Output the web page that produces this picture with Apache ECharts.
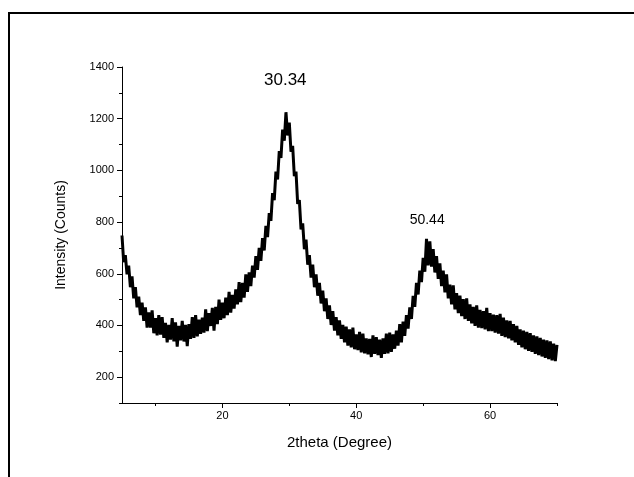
<!DOCTYPE html>
<html>
<head>
<meta charset="utf-8">
<script src="https://cdn.jsdelivr.net/npm/echarts@6/dist/echarts.min.js"></script>
<style>
  html, body { margin: 0; padding: 0; background: #fff; }
  #chart { width: 634px; height: 477px; }
</style>
</head>
<body>
<div id="chart"></div>
<script>
// scan grid: 2theta from 5 to 70 deg, one reading every 0.25 deg
const twoThetaStart = 5
const twoThetaStep = 0.25

// intensity readings (counts), one row per degree
const intensity = [
  748, 645, 672, 598,   // 5
  632, 548, 590, 505,   // 6
  548, 470, 512, 440,   // 7
  488, 418, 470, 392,   // 8
  450, 392, 458, 370,   // 9
  428, 362, 440, 365,   // 10
  432, 352, 410, 335,   // 11
  402, 345, 428, 338,   // 12
  412, 318, 398, 342,   // 13
  418, 338, 402, 320,   // 14
  405, 348, 432, 352,   // 15
  440, 358, 422, 368,   // 16
  430, 372, 462, 378,   // 17
  448, 398, 468, 380,   // 18
  472, 405, 500, 422,   // 19
  488, 428, 508, 440,   // 20
  530, 450, 518, 465,   // 21
  540, 482, 568, 490,   // 22
  565, 508, 598, 530,   // 23
  605, 552, 632, 585,   // 24
  668, 615, 700, 650,   // 25
  738, 690, 785, 742,   // 26
  835, 805, 912, 885,   // 27
  995, 965, 1075, 1048, // 28
  1158, 1115, 1225, 1135, // 29
  1185, 1072, 1095, 978, // 30
  995, 870, 885, 772,   // 31
  795, 695, 732, 635,   // 32
  672, 585, 635, 548,   // 33
  598, 515, 565, 485,   // 34
  535, 455, 505, 425,   // 35
  478, 402, 455, 380,   // 36
  432, 362, 420, 348,   // 37
  402, 335, 395, 322,   // 38
  385, 315, 392, 308,   // 39
  365, 305, 375, 296,   // 40
  368, 292, 350, 288,   // 41
  348, 278, 362, 290,   // 42
  355, 285, 345, 275,   // 43
  350, 290, 368, 292,   // 44
  372, 298, 365, 310,   // 45
  380, 322, 405, 335,   // 46
  415, 360, 440, 388,   // 47
  470, 425, 515, 472,   // 48
  565, 520, 612, 568,   // 49
  662, 608, 735, 632,   // 50
  725, 628, 695, 605,   // 51
  668, 580, 640, 552,   // 52
  612, 528, 598, 505,   // 53
  558, 482, 555, 462,   // 54
  525, 448, 515, 436,   // 55
  502, 425, 505, 418,   // 56
  482, 408, 472, 398,   // 57
  478, 392, 460, 390,   // 58
  455, 385, 468, 378,   // 59
  448, 378, 442, 372,   // 60
  440, 368, 445, 360,   // 61
  430, 355, 420, 350,   // 62
  418, 342, 405, 335,   // 63
  398, 325, 385, 315,   // 64
  380, 308, 375, 302,   // 65
  370, 298, 362, 290,   // 66
  358, 285, 352, 280,   // 67
  345, 275, 342, 270,   // 68
  338, 265, 330, 262,   // 69
  325                   // 70
]

const xMajorTicks = [20, 40, 60]
const xMinorTicks = [10, 30, 50, 70]
const yMajorTicks = [200, 400, 600, 800, 1000, 1200, 1400]
const yMinorTicks = [100, 300, 500, 700, 900, 1100, 1300]

const peakNames = ['30.34', '50.44']
const peakNameAt = [[29.4, 1347], [50.6, 807]]

const FONT = 'Liberation Sans, Arial, sans-serif'

const chart = echarts.init(document.getElementById('chart'), null, { renderer: 'canvas' })

const points = intensity.map((v, i) => [twoThetaStart + i * twoThetaStep, v])

const axisLineStyle = { color: '#000', width: 1 }
const plain = v => String(v)

const option = {
  animation: false,
  backgroundColor: '#fff',
  grid: { left: 122, right: 77, top: 67, bottom: 74 },
  graphic: [{
    type: 'rect',
    shape: { x: 9, y: 13, width: 700, height: 520 },
    style: { fill: 'none', stroke: '#000', lineWidth: 2 },
    silent: true
  }],
  xAxis: [
    {
      type: 'value',
      min: 5,
      max: 70,
      position: 'bottom',
      axisLine: { show: true, lineStyle: axisLineStyle },
      axisTick: { show: true, customValues: xMajorTicks, length: 5, lineStyle: axisLineStyle },
      axisLabel: { customValues: xMajorTicks, formatter: plain, color: '#000', fontSize: 11, fontFamily: FONT, margin: 7 },
      splitLine: { show: false },
      name: '2theta (Degree)',
      nameLocation: 'middle',
      nameGap: 32,
      nameTextStyle: { color: '#000', fontSize: 15, fontFamily: FONT }
    },
    {
      type: 'value',
      min: 5,
      max: 70,
      position: 'bottom',
      axisLine: { show: false },
      axisTick: { show: true, customValues: xMinorTicks, length: 3, lineStyle: axisLineStyle },
      axisLabel: { show: false },
      splitLine: { show: false }
    }
  ],
  yAxis: [
    {
      type: 'value',
      min: 100,
      max: 1400,
      position: 'left',
      axisLine: { show: true, lineStyle: axisLineStyle },
      axisTick: { show: true, customValues: yMajorTicks, length: 5, lineStyle: axisLineStyle },
      axisLabel: { customValues: yMajorTicks, formatter: plain, color: '#000', fontSize: 11, fontFamily: FONT, margin: 8 },
      splitLine: { show: false },
      name: 'Intensity (Counts)',
      nameLocation: 'middle',
      nameRotate: 90,
      nameGap: 54,
      nameTextStyle: { color: '#000', fontSize: 14, fontFamily: FONT }
    },
    {
      type: 'value',
      min: 100,
      max: 1400,
      position: 'left',
      axisLine: { show: false },
      axisTick: { show: true, customValues: yMinorTicks, length: 3, lineStyle: axisLineStyle },
      axisLabel: { show: false },
      splitLine: { show: false }
    }
  ],
  series: [{
    type: 'line',
    xAxisIndex: 0,
    yAxisIndex: 0,
    data: points,
    showSymbol: false,
    symbol: 'none',
    lineStyle: { color: '#000', width: 3 },
    silent: true,
    markPoint: {
      silent: true,
      symbol: 'circle',
      symbolSize: 0,
      data: peakNames.map((t, i) => ({
        coord: peakNameAt[i],
        value: t,
        label: {
          show: true,
          position: 'inside',
          formatter: t,
          color: '#000',
          fontFamily: FONT,
          fontSize: i === 0 ? 17 : 14
        }
      }))
    }
  }]
}

chart.setOption(option)
window.addEventListener('resize', () => chart.resize())
</script>
</body>
</html>
